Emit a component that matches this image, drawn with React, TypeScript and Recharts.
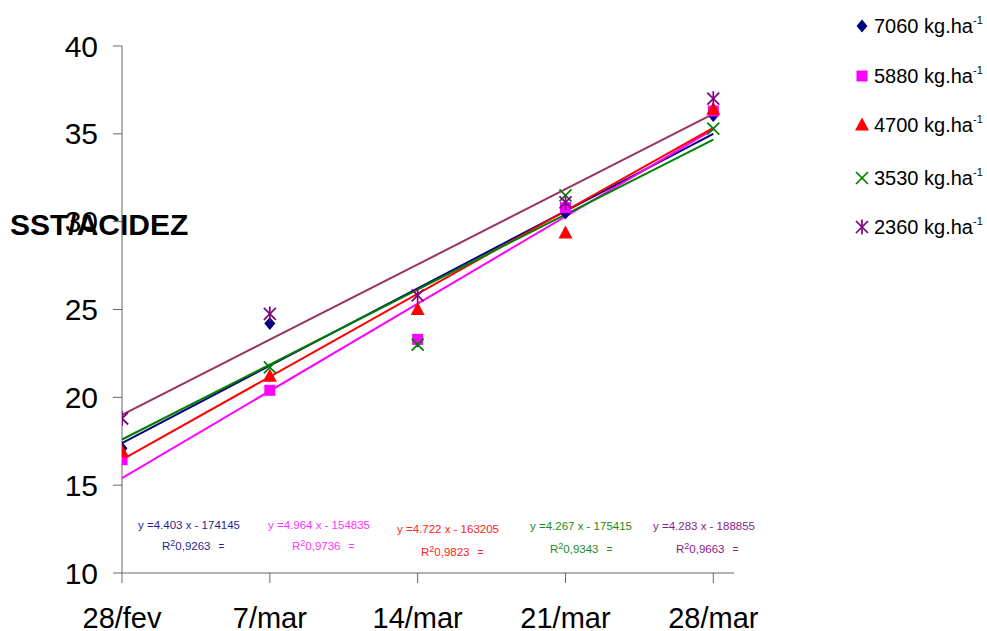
import React from 'react';
import { ComposedChart, Scatter, XAxis, YAxis, Customized } from 'recharts';

const categories = ['28/fev', '7/mar', '14/mar', '21/mar', '28/mar'];
const yTicks = [10, 15, 20, 25, 30, 35, 40];

const seriesNames = ['7060 kg.ha', '5880 kg.ha', '4700 kg.ha', '3530 kg.ha', '2360 kg.ha'];
const s7060 = [17.1, 24.2, 23.2, 30.5, 36.05];
const s5880 = [16.45, 20.4, 23.3, 30.8, 36.3];
const s4700 = [16.9, 21.2, 25.0, 29.35, 36.4];
const s3530 = [18.8, 21.7, 23.0, 31.5, 35.3];
const s2360 = [18.8, 24.75, 25.8, 31.1, 37.0];

// trend line end values (at 28/fev and 28/mar)
const trendStart = [17.4, 15.4, 16.45, 17.6, 19.0];
const trendEnd = [35.0, 35.26, 35.34, 34.67, 36.13];

const equations = ['y =4.403 x - 174145', 'y =4.964 x - 154835', 'y =4.722 x - 163205', 'y =4.267 x - 175415', 'y =4.283 x - 188855'];
const r2Values = ['0,9263', '0,9736', '0,9823', '0,9343', '0,9663'];

const markerColors = ['#000080', '#FF00FF', '#FF0000', '#008000', '#800080'];
const lineColors = ['#000080', '#FF00FF', '#FF0000', '#008000', '#993366'];
const textColors = ['#1F1F8F', '#FF33FF', '#FF2020', '#1A8A1A', '#8A1A8A'];

const FONT = '"Liberation Sans", Arial, sans-serif';
const allSeries = [s7060, s5880, s4700, s3530, s2360];

const toPoints = (vals: number[]) => vals.map((v, i) => ({ x: i, y: v }));
const trendPoints = (i: number) => [
  { x: 0, y: trendStart[i] },
  { x: categories.length - 1, y: trendEnd[i] },
];

function Marker({ kind, cx, cy }: { kind: number; cx: number; cy: number }) {
  const c = markerColors[kind];
  if (kind === 0) {
    return <path d={`M${cx},${cy - 6.5}L${cx + 5.5},${cy}L${cx},${cy + 6.5}L${cx - 5.5},${cy}Z`} fill={c} />;
  }
  if (kind === 1) {
    return <rect x={cx - 5.5} y={cy - 5.5} width={11} height={11} fill={c} />;
  }
  if (kind === 2) {
    return <path d={`M${cx},${cy - 7.5}L${cx + 7},${cy + 5.5}L${cx - 7},${cy + 5.5}Z`} fill={c} />;
  }
  if (kind === 3) {
    return (
      <g stroke={c} strokeWidth={1.7}>
        <line x1={cx - 6} y1={cy - 6} x2={cx + 6} y2={cy + 6} />
        <line x1={cx - 6} y1={cy + 6} x2={cx + 6} y2={cy - 6} />
      </g>
    );
  }
  return (
    <g stroke={c} strokeWidth={1.7}>
      <line x1={cx - 6} y1={cy - 6} x2={cx + 6} y2={cy + 6} />
      <line x1={cx - 6} y1={cy + 6} x2={cx + 6} y2={cy - 6} />
      <line x1={cx} y1={cy - 7.5} x2={cx} y2={cy + 7.5} />
    </g>
  );
}

const eqPos = [
  { x: 138, y: 529, rx: 162, ry: 550 },
  { x: 268, y: 529, rx: 292, ry: 550 },
  { x: 397, y: 533, rx: 421, ry: 556 },
  { x: 530, y: 530, rx: 550, ry: 553 },
  { x: 653, y: 530, rx: 676, ry: 553 },
];

const legendRows = [26, 76, 125, 178, 227];

function Overlay() {
  return (
    <g fontFamily={FONT}>
      <text x={10} y={235} fontSize={30} fontWeight="bold" fill="#000">SST/ACIDEZ</text>
      {equations.map((eq, i) => (
        <g key={i} fill={textColors[i]} fontSize={11.5}>
          <text x={eqPos[i].x} y={eqPos[i].y}>{eq}</text>
          <text x={eqPos[i].rx} y={eqPos[i].ry}>
            R<tspan dy={-4} fontSize={9}>2</tspan>
            <tspan dy={4}>{r2Values[i]}</tspan>
            <tspan dx={8} fontSize={10}>=</tspan>
          </text>
        </g>
      ))}
      {seriesNames.map((n, i) => (
        <g key={n}>
          <Marker kind={i} cx={862} cy={legendRows[i]} />
          <text x={874} y={legendRows[i] + 7} fontSize={20} fill="#000">
            {n}
            <tspan dy={-9} fontSize={11}>-1</tspan>
          </text>
        </g>
      ))}
    </g>
  );
}

const Empty = () => <g />;

export default function App() {
  return (
    <div style={{ position: 'absolute', left: 0, top: 0, background: '#fff' }}>
      <ComposedChart width={987} height={631} margin={{ top: 46, right: 253, bottom: 0, left: 0 }}>
        <XAxis
          type="number"
          dataKey="x"
          domain={[0, 4.14]}
          ticks={[0, 1, 2, 3, 4]}
          tickFormatter={(v: number) => categories[v] ?? ''}
          height={58}
          tickSize={10}
          tickMargin={24}
          stroke="#666"
          tick={{ fill: '#000', fontSize: 29, fontFamily: FONT }}
          allowDataOverflow
          interval={0}
        />
        <YAxis
          type="number"
          dataKey="y"
          domain={[10, 40]}
          ticks={yTicks}
          width={122}
          tickSize={9}
          tickMargin={15}
          stroke="#666"
          tick={{ fill: '#000', fontSize: 30, fontFamily: FONT }}
          allowDataOverflow
        />
        {lineColors.map((c, i) => (
          <Scatter
            key={'t' + i}
            data={trendPoints(i)}
            line={{ stroke: c, strokeWidth: 2 }}
            shape={Empty}
            isAnimationActive={false}
          />
        ))}
        {allSeries.map((s, i) => (
          <Scatter
            key={'s' + i}
            data={toPoints(s)}
            shape={(p: any) => <Marker kind={i} cx={p.cx} cy={p.cy} />}
            isAnimationActive={false}
          />
        ))}
        <Customized component={Overlay} />
      </ComposedChart>
    </div>
  );
}
